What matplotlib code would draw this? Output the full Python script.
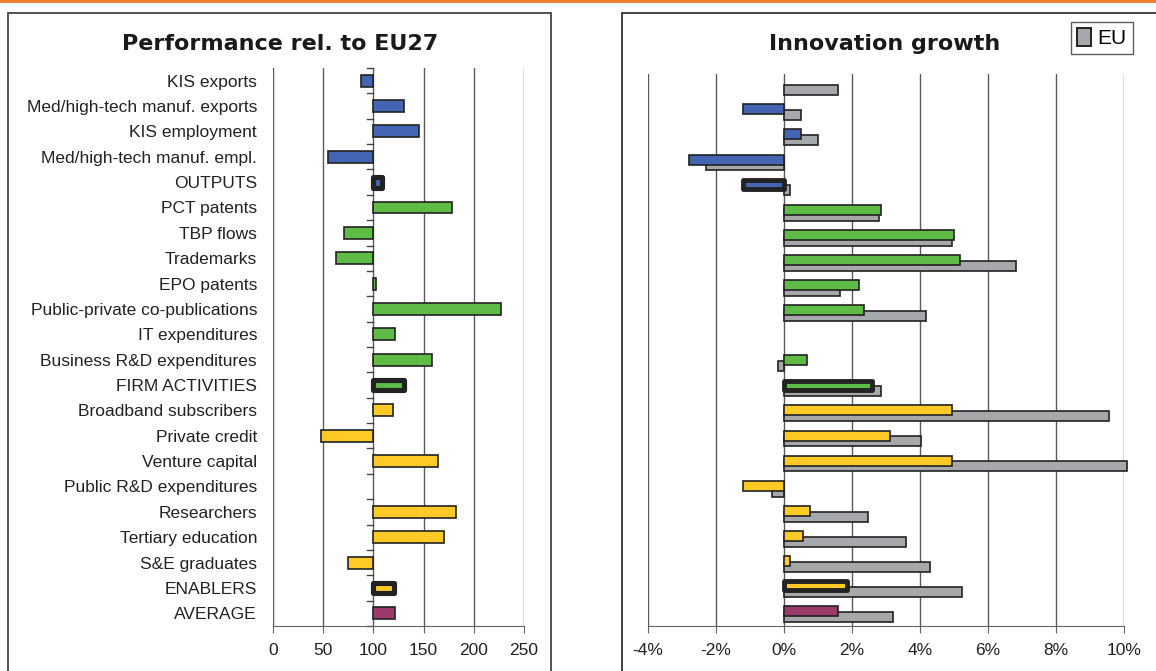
import numpy as np
import matplotlib.pyplot as plt
from matplotlib.patches import Patch, Rectangle

categories = ["KIS exports", "Med/high-tech manuf. exports", "KIS employment",
              "Med/high-tech manuf. empl.", "OUTPUTS", "PCT patents", "TBP flows",
              "Trademarks", "EPO patents", "Public-private co-publications",
              "IT expenditures", "Business R&D expenditures", "FIRM ACTIVITIES",
              "Broadband subscribers", "Private credit", "Venture capital",
              "Public R&D expenditures", "Researchers", "Tertiary education",
              "S&E graduates", "ENABLERS", "AVERAGE"]
groups = ["out"] * 5 + ["firm"] * 8 + ["enab"] * 8 + ["avg"]
composites = ["OUTPUTS", "FIRM ACTIVITIES", "ENABLERS"]

# performance relative to EU27 (EU = 100)
perf = [88, 130, 145, 55, 109, 178, 71, 63, 103, 227, 122, 158, 130,
        120, 48, 164, np.nan, 182, 170, 75, 121, 122]
# innovation growth, %
growth_country = [np.nan, -1.2, 0.51, -2.8, -1.2, 2.87, 5.01, 5.18, 2.2, 2.37, np.nan,
                  0.68, 2.6, 4.96, 3.14, 4.96, -1.21, 0.77, 0.56, 0.18, 1.87, 1.61]
growth_eu = [1.61, 0.51, 1.0, -2.3, 0.18, 2.81, 4.96, 6.83, 1.66, 4.19, np.nan,
             -0.17, 2.87, 9.58, 4.03, 10.1, -0.33, 2.49, 3.59, 4.3, 5.23, 3.2]

group_colors = {"out": "#4466B2", "firm": "#5DBB46", "enab": "#FFC926", "avg": "#9B3A6B"}
eu_color = "#A7A8AB"
edge = "#222222"
grid_c = "#5a5a5a"

W, H = 1156, 671
fig = plt.figure(figsize=(W / 100, H / 100), dpi=100)

def fx(px):
    return px / W

def fy(py):
    return 1 - py / H

# panel frames and orange top rule
fig.patches.append(Rectangle((0, fy(2.5)), 1, 2.5 / H, transform=fig.transFigure,
                             facecolor="#ED8133", edgecolor="none"))
fig.patches.append(Rectangle((fx(8), fy(700)), fx(551 - 8), 700 / H - 12.5 / H,
                             transform=fig.transFigure, facecolor="none",
                             edgecolor="#444", lw=1.3))
fig.patches.append(Rectangle((fx(621.5), fy(700)), fx(700), 700 / H - 12.5 / H,
                             transform=fig.transFigure, facecolor="none",
                             edgecolor="#333", lw=1.3))

n = len(categories)
y = np.arange(n)

# ---------- left panel ----------
ax1 = fig.add_axes([fx(273), fy(626), fx(524 - 273), (626 - 68) / H])
for i in range(n):
    v = perf[i]
    if np.isnan(v):
        continue
    c = group_colors[groups[i]]
    if categories[i] in composites:
        ax1.barh(y[i], v - 100, left=100, height=0.43, color=c, edgecolor=edge,
                 lw=3.7, joinstyle="round", zorder=3)
    else:
        ax1.barh(y[i], v - 100, left=100, height=0.47, color=c, edgecolor=edge,
                 lw=1.2, zorder=3)
for b in np.arange(n + 1) - 0.5:
    ax1.plot([94, 100], [b, b], color="#444", lw=1, zorder=2, clip_on=False)
ax1.set_xlim(0, 250)
ax1.set_ylim(n - 0.5, -0.5)
ax1.set_xticks([0, 50, 100, 150, 200, 250])
ax1.set_yticks(y)
ax1.set_yticklabels(categories, fontsize=12.5, family="Liberation Sans", color="#222")
ax1.tick_params(axis="y", length=0, pad=11.5)
ax1.tick_params(axis="x", length=5, color="#666", pad=7, labelsize=12.5, labelcolor="#222")
for lab in ax1.get_xticklabels():
    lab.set_family("Liberation Sans")
ax1.grid(axis="x", color=grid_c, lw=1, zorder=1)
for s in ["top", "right", "left"]:
    ax1.spines[s].set_visible(False)
ax1.spines["bottom"].set_color("#666")

fig.text(fx(280), fy(44), "Performance rel. to EU27", ha="center", va="center",
         fontsize=16, fontweight="bold", family="DejaVu Sans", color="#1a1a1a")

# ---------- right panel ----------
ax2 = fig.add_axes([fx(647.7), fy(626), fx(1123.7 - 647.7), (626 - 74) / H])
for i in range(n):
    v = growth_eu[i]
    if not np.isnan(v):
        ax2.barh(y[i] + 0.14, v, height=0.4, color=eu_color, edgecolor=edge,
                 lw=1.2, zorder=3, clip_on=False)
for i in range(n):
    v = growth_country[i]
    if np.isnan(v):
        continue
    c = group_colors[groups[i]]
    if categories[i] in composites:
        ax2.barh(y[i] - 0.1, v, height=0.36, color=c, edgecolor=edge,
                 lw=3.5, joinstyle="round", zorder=4)
    else:
        ax2.barh(y[i] - 0.09, v, height=0.4, color=c, edgecolor=edge,
                 lw=1.2, zorder=4)
ax2.set_xlim(-4, 10)
ax2.set_ylim(n - 0.5, -0.5)
ax2.set_xticks(np.arange(-4, 11, 2))
ax2.set_xticklabels([f"{t}%" for t in range(-4, 11, 2)], family="Liberation Sans")
ax2.set_yticks([])
ax2.tick_params(axis="x", length=5, color="#666", pad=7, labelsize=12.5, labelcolor="#222")
ax2.grid(axis="x", color=grid_c, lw=1, zorder=1)
for s in ["top", "right", "left"]:
    ax2.spines[s].set_visible(False)
ax2.spines["bottom"].set_color("#666")

fig.text(fx(885), fy(44), "Innovation growth", ha="center", va="center",
         fontsize=16, fontweight="bold", family="DejaVu Sans", color="#1a1a1a")

leg = fig.legend(handles=[Patch(facecolor=eu_color, edgecolor=edge, lw=1.4)],
                 labels=["EU"], loc="upper right",
                 bbox_to_anchor=(fx(1133), fy(22)), fancybox=False,
                 edgecolor="#333", handlelength=0.7, handleheight=0.9,
                 handletextpad=0.3, borderpad=0.3, borderaxespad=0,
                 prop={"family": "Liberation Sans", "size": 15})
leg.get_frame().set_linewidth(1)

fig.savefig("out.png", dpi=100)
